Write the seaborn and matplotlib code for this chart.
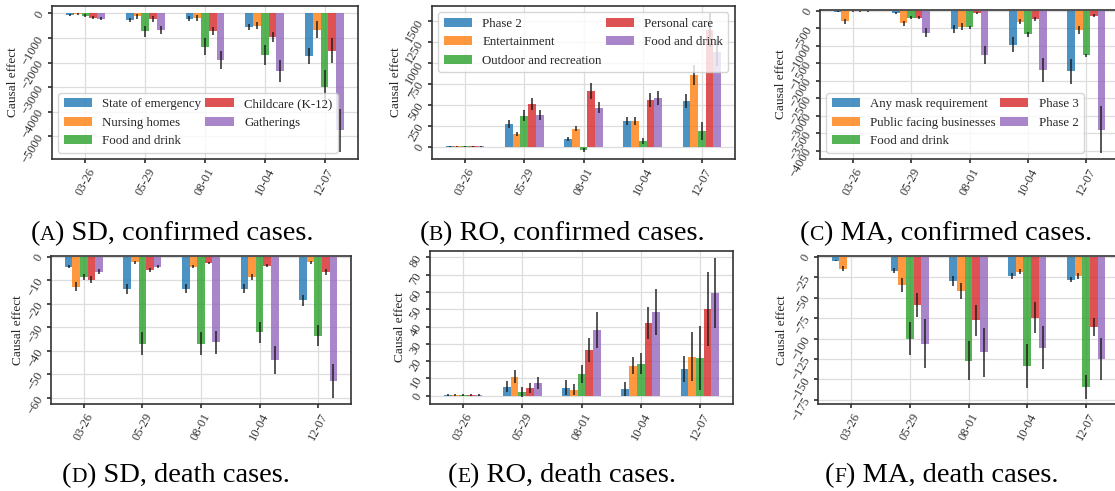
import numpy as np
import pandas as pd
import matplotlib
matplotlib.use("Agg")
import matplotlib.pyplot as plt
from matplotlib.ticker import MultipleLocator
from matplotlib.transforms import IdentityTransform
import seaborn as sns

sns.set_theme(style="whitegrid")
plt.rcParams['font.family'] = ['Liberation Serif', 'DejaVu Serif']
plt.rcParams.update({
    'axes.edgecolor': '#333333',
    'axes.linewidth': 1.2,
    'grid.color': '#dddddd',
    'grid.linewidth': 0.9,
    'xtick.bottom': True,
    'ytick.left': True,
    'xtick.major.size': 3,
    'ytick.major.size': 3,
    'xtick.color': '#333333',
    'ytick.color': '#333333',
    'legend.framealpha': 0.8,
    'legend.edgecolor': '#cccccc',
})

dates = ["03-26", "05-29", "08-01", "10-04", "12-07"]

# (A) SD, confirmed
sd_policies = ["State of emergency", "Nursing homes", "Food and drink", "Childcare (K-12)", "Gatherings"]
sd_conf = [[-60, -270, -220, -550, -1730],
           [-30, -110, -200, -500, -660],
           [-100, -720, -1360, -1690, -2990],
           [-180, -220, -720, -950, -1510],
           [-210, -680, -1890, -2340, -4760]]
sd_conf_err = [[50, 90, 100, 130, 340],
               [30, 100, 130, 130, 340],
               [60, 220, 350, 400, 700],
               [60, 120, 170, 200, 500],
               [70, 150, 370, 450, 870]]

# (B) RO, confirmed
ro_policies = ["Phase 2", "Entertainment", "Outdoor and recreation", "Personal care", "Food and drink"]
ro_conf = [[4, 274, 95, 310, 548],
           [4, 155, 214, 310, 857],
           [4, 369, -44, 71, 190],
           [4, 512, 667, 560, 1393],
           [4, 381, 468, 583, 1127]]
ro_conf_err = [[8, 50, 25, 50, 80],
               [8, 25, 30, 50, 125],
               [8, 65, 25, 35, 105],
               [8, 70, 100, 80, 206],
               [8, 60, 70, 85, 165]]

# (C) MA, confirmed
ma_policies = ["Any mask requirement", "Public facing businesses", "Food and drink", "Phase 3", "Phase 2"]
ma_conf = [[-20, -65, -520, -970, -1730],
           [-300, -350, -450, -305, -545],
           [-10, -190, -475, -665, -1275],
           [-15, -190, -50, -230, -135],
           [-10, -620, -1275, -1700, -3400]]
ma_conf_err = [[20, 30, 120, 210, 350],
               [80, 70, 100, 70, 110],
               [10, 50, 30, 70, 50],
               [10, 50, 30, 55, 40],
               [10, 130, 260, 340, 670]]

# (D) SD, death
sd_death = [[-4.2, -13.8, -13.6, -13.6, -18.6],
            [-12.7, -2.4, -4.2, -8.5, -2.4],
            [-8.5, -36.9, -36.9, -32.2, -33.5],
            [-9.7, -5.5, -2.8, -3.8, -6.4],
            [-6.4, -4.2, -36.4, -44.0, -53.0]]
sd_death_err = [[0.7, 2, 2, 1.9, 2.5],
                [2, 0.5, 0.7, 1.3, 0.5],
                [1.3, 5, 5, 4.5, 4.6],
                [1.4, 0.8, 0.5, 0.6, 1.2],
                [1, 0.6, 5, 5.9, 7.2]]

# (E) RO, death
ro_death = [[0.2, 5.2, 4.6, 4.0, 15.6],
            [0.2, 11.0, 3.5, 17.3, 22.5],
            [0.2, 2.3, 12.7, 18.5, 21.9],
            [0.2, 4.4, 26.5, 42.1, 50.0],
            [0.2, 7.5, 38.0, 48.5, 59.4]]
ro_death_err = [[0.5, 3.2, 4.3, 4.2, 7.4],
                [0.5, 3.8, 3.3, 4.9, 14.2],
                [0.5, 3.0, 5.3, 6.0, 18.5],
                [0.5, 3.0, 7.1, 9.1, 21.4],
                [0.5, 3.5, 10.5, 13.5, 20.2]]

# (F) MA, death
ma_death = [[-4.9, -17, -29.7, -23.6, -28],
            [-14.6, -34.5, -41.9, -18.3, -23.6],
            [-0.5, -100.4, -127, -134, -159],
            [-0.5, -59, -77.6, -74.4, -85.4],
            [-0.5, -106.5, -117, -111, -124.8]]
ma_death_err = [[1, 3, 6, 3.5, 3.2],
                [3.5, 8.5, 10, 3.3, 3.5],
                [0.3, 20, 24, 27, 14.6],
                [0.3, 15, 19, 19, 11],
                [0.3, 30, 30, 26.5, 26]]

W, H = 1115, 491
fig = plt.figure(figsize=(W / 100, H / 100), dpi=100)
colors = sns.color_palette("tab10")[:5]


def panel(box, policies, means, errs, ylim, ystep, legend_loc=None):
    l, r, t, b = box
    ax = fig.add_axes([l / W, 1 - b / H, (r - l) / W, (b - t) / H])
    rows = [(d, p, means[i][j]) for i, p in enumerate(policies) for j, d in enumerate(dates)]
    df = pd.DataFrame(rows, columns=['date', 'policy', 'effect'])
    sns.barplot(data=df, x='date', y='effect', hue='policy', order=dates,
                hue_order=policies, palette=colors, width=0.65, saturation=1,
                alpha=0.8, errorbar=None, linewidth=0, edgecolor='none',
                ax=ax, legend=legend_loc is not None)
    bar_groups = list(ax.containers)
    for i, cont in enumerate(bar_groups):
        xs = [bar.get_x() + bar.get_width() / 2 for bar in cont]
        ys = [bar.get_y() + bar.get_height() for bar in cont]
        ax.errorbar(xs, ys, yerr=errs[i], fmt='none', ecolor='#1a1a1a',
                    elinewidth=1.3, alpha=0.8, capsize=0, zorder=3)
    ax.set_xlim(-0.56, 4.56)
    ax.set_ylim(*ylim)
    ax.yaxis.set_major_locator(MultipleLocator(ystep))
    ax.xaxis.grid(True)
    ax.set_xlabel('')
    ax.set_ylabel('Causal effect', fontsize=9.5, labelpad=1)
    ax.tick_params(axis='x', rotation=62, labelsize=9, pad=2)
    ax.tick_params(axis='y', rotation=60, labelsize=9, pad=1)
    if legend_loc is not None:
        sns.move_legend(ax, legend_loc, ncol=2, title=None, fontsize=9.3,
                        columnspacing=0.3, handlelength=2.2, frameon=True,
                        framealpha=0.8)
    return ax


panel((52, 358, 6, 159), sd_policies, sd_conf, sd_conf_err, (-5920, 300), 1000, "lower left")
panel((432, 735, 6, 159), ro_policies, ro_conf, ro_conf_err, (-147, 1682), 250, "upper left")
panel((820, 1119, 10, 159), ma_policies, ma_conf, ma_conf_err, (-4240, 25), 500, "lower left")
panel((51, 351, 256, 404), sd_policies, sd_death, sd_death_err, (-62.6, 0.3), 10)
panel((430, 733, 251, 404), ro_policies, ro_death, ro_death_err, (-4.8, 83.7), 10)
panel((818, 1119, 256, 404), ma_policies, ma_death, ma_death_err, (-180, 0.8), 25)

# sub-figure captions, with the letter in small caps
renderer = fig.canvas.get_renderer()


def caption(cx, base, letter, rest):
    parts = [("(", 20.5), (letter, 15.5), (") " + rest, 20.5)]
    texts = [fig.text(0, H - base, s, fontsize=fs, va='baseline', ha='left',
                      transform=IdentityTransform(), color='black')
             for s, fs in parts]
    widths = [t.get_window_extent(renderer).width for t in texts]
    x = cx - sum(widths) / 2
    for t, w in zip(texts, widths):
        t.set_x(x)
        x += w


caption(172, 240, "A", "SD, confirmed cases.")
caption(562, 240, "B", "RO, confirmed cases.")
caption(946, 240, "C", "MA, confirmed cases.")
caption(176, 482, "D", "SD, death cases.")
caption(562, 482, "E", "RO, death cases.")
caption(942, 482, "F", "MA, death cases.")

fig.savefig("out.png", dpi=100)
